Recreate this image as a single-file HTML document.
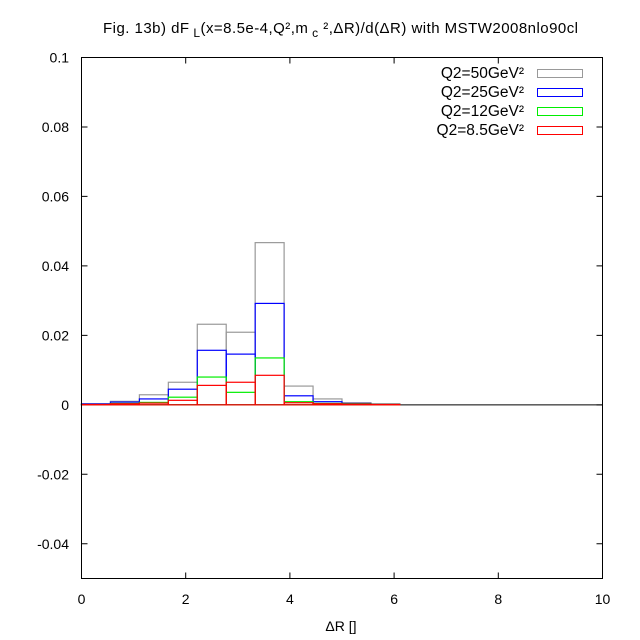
<!DOCTYPE html>
<html><head><meta charset="utf-8"><style>
body{margin:0;background:#fff}
svg{display:block;font-family:"Liberation Sans",sans-serif}
</style></head><body>
<svg id="c" width="640" height="640" viewBox="0 0 640 640" xmlns="http://www.w3.org/2000/svg">
<text x="103" y="33" font-size="15" textLength="475" lengthAdjust="spacing">Fig. 13b) dF<tspan font-size="12" dy="4"> L</tspan><tspan dy="-4">(x=8.5e-4,Q²,m</tspan><tspan font-size="12" dy="4"> c</tspan><tspan dy="-4"> ²,ΔR)/d(ΔR) with MSTW2008nlo90cl</tspan></text>
<g id="axes"></g>
<g id="bars"></g>
<rect x="81.5" y="57.5" width="521" height="521" fill="none" stroke="#000"/>
<text x="341" y="631" font-size="14" text-anchor="middle">ΔR []</text>
<g id="legend"></g>
</svg>
<script>
const binWidth = 10/18;
const seriesNames = ["Q2=50GeV²","Q2=25GeV²","Q2=12GeV²","Q2=8.5GeV²"];
const seriesColors = ["#999999","#0000ff","#00ee00","#ff0000"];
const q50 = [0.0002,0.0010,0.0029,0.0065,0.0232,0.0209,0.0467,0.0054,0.0017,0.0006,0.0003];
const q25 = [0.0003,0.0008,0.0017,0.0045,0.0157,0.0146,0.0292,0.0026,0.0009,0.0004,0.0001];
const q12 = [0.0001,0.0004,0.0007,0.0022,0.0080,0.0036,0.0135,0.0009,0.0004,0.0003,0.0001];
const q85 = [0.0001,0.0003,0.0005,0.0013,0.0056,0.0065,0.0085,0.0006,0.0003,0.0002,0.0001];
const xTicks = [0,2,4,6,8,10];
const yTicks = [-0.04,-0.02,0,0.02,0.04,0.06,0.08,0.1];
const yTickLabels = ["-0.04","-0.02","0","0.02","0.04","0.06","0.08","0.1"];
const NS="http://www.w3.org/2000/svg";
const X0=81.5,X1=602.5,Y0=578.5,Y1=57.5;
const xs=v=>X0+(v-0)/(10-0)*(X1-X0);
const ys=v=>Y0-(v-(-0.05))/(0.1-(-0.05))*(Y0-Y1);
function mk(t,a,p){const e=document.createElementNS(NS,t);for(const k in a)e.setAttribute(k,a[k]);p.appendChild(e);return e;}
const ax=document.getElementById('axes');
xTicks.forEach((v,i)=>{
  const l=mk('path',{d:`M${xs(v)},${Y0}v-6M${xs(v)},${Y1}v6`,stroke:'#000'},ax);
  
  
  const t=mk('text',{x:xs(v),y:604,'font-size':14,'text-anchor':'middle'},ax);t.textContent=v;
  
  
});
yTicks.forEach((v,i)=>{
  const l=mk('path',{d:`M${X0},${ys(v)}h6M${X1},${ys(v)}h-6`,stroke:'#000'},ax);
  
  
  const t=mk('text',{x:69,y:ys(v)+5,'font-size':14,'text-anchor':'end'},ax);t.textContent=yTickLabels[i];
  
  
});
const z=mk('line',{x1:X0,x2:X1,y1:ys(0),y2:ys(0),stroke:'#000'},ax);


const bars=document.getElementById('bars');
[q50,q25,q12,q85].forEach((arr,s)=>{
  arr.forEach((v,i)=>{
    const x=xs(i*binWidth),w=xs((i+1)*binWidth)-x;
    const r=mk('rect',{x:x,y:ys(v),width:w,height:ys(0)-ys(v),fill:'none',stroke:seriesColors[s],'stroke-width':1.2},bars);
    
    
  });
});
const lg=document.getElementById('legend');
seriesNames.forEach((n,i)=>{
  const y=70+i*19;
  const t=mk('text',{x:524,y:y+8,'font-size':15.5,'text-anchor':'end'},lg);t.textContent=n;
  
  
  const r=mk('rect',{x:537.5,y:y-0.5,width:45,height:8,fill:'none',stroke:seriesColors[i]},lg);
  
  
});
</script>
</body></html>
